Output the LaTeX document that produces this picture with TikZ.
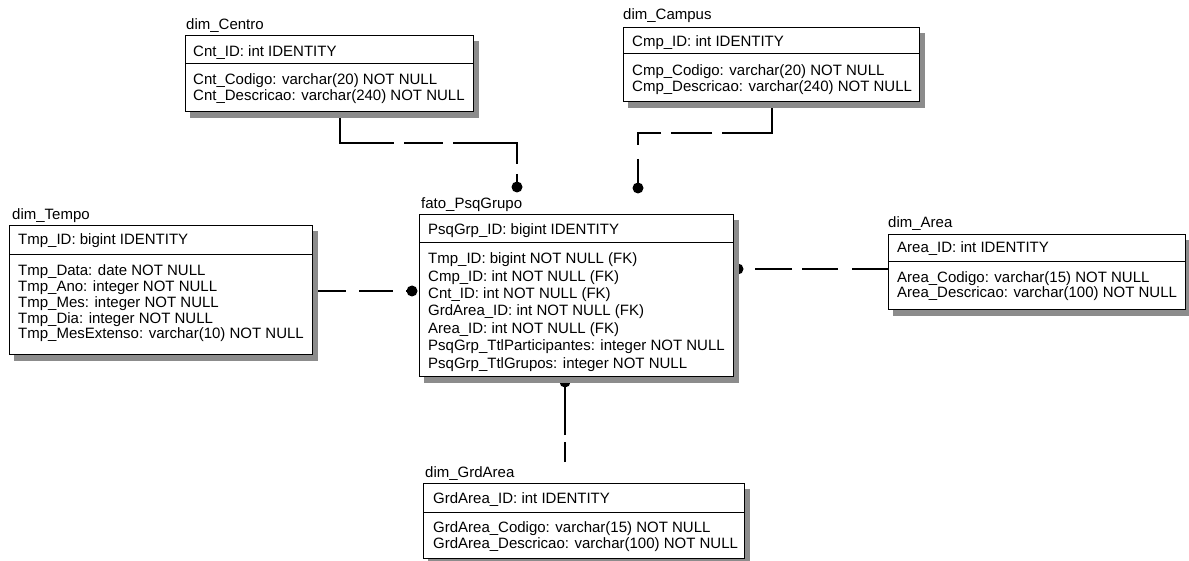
\documentclass[tikz,border=0pt]{standalone}
\usepackage{fontspec}
\setmainfont{Liberation Sans}
\definecolor{tblshade}{gray}{0.55}
\pgfdeclarelayer{links}
\pgfdeclarelayer{shade}
\pgfsetlayers{links,shade,main}
\begin{document}
\begin{tikzpicture}[x=1pt,y=-1pt,
  tbl/.style={draw=black, line width=1pt, fill=white, inner sep=0pt, anchor=north west},
  fld/.style={anchor=base west, inner sep=0pt, font=\fontsize{15}{17}\selectfont},
  divider/.style={draw=black, line width=1pt},
  rel/.style={draw=black, line width=1.2pt},
  fkdot/.style={circle, fill=black, inner sep=0pt, minimum size=11pt}]
\useasboundingbox (0,0) rectangle (1189,561);

% ---------- dim_Centro ----------
\node[fld] (tCentro) at (186,30) {dim\_Centro};
\node[tbl, minimum width=288pt, minimum height=76pt] (centro) at (185,35) {};
\draw[divider] (centro.west |- 0,64) -- (centro.east |- 0,64);
\node[fld] (centro1) at (193,56.5) {Cnt\_ID: int IDENTITY};
\node[fld] (centro2) at (193,85) {Cnt\_Codigo: varchar(20) NOT NULL};
\node[fld] (centro3) at (193,101) {Cnt\_Descricao: varchar(240) NOT NULL};

% ---------- dim_Campus ----------
\node[fld] (tCampus) at (623,20) {dim\_Campus};
\node[tbl, minimum width=296pt, minimum height=74pt] (campus) at (623,27) {};
\draw[divider] (campus.west |- 0,54) -- (campus.east |- 0,54);
\node[fld] (campus1) at (632,47) {Cmp\_ID: int IDENTITY};
\node[fld] (campus2) at (632,76) {Cmp\_Codigo: varchar(20) NOT NULL};
\node[fld] (campus3) at (632,92) {Cmp\_Descricao: varchar(240) NOT NULL};

% ---------- dim_Tempo ----------
\node[fld] (tTempo) at (12,220) {dim\_Tempo};
\node[tbl, minimum width=303pt, minimum height=129pt] (tempo) at (9,225) {};
\draw[divider] (tempo.west |- 0,255) -- (tempo.east |- 0,255);
\node[fld] (tempo1) at (18,245) {Tmp\_ID: bigint IDENTITY};
\node[fld] (tempo2) at (18,276) {Tmp\_Data: date NOT NULL};
\node[fld] (tempo3) at (18,291.75) {Tmp\_Ano: integer NOT NULL};
\node[fld] (tempo4) at (18,307.5) {Tmp\_Mes: integer NOT NULL};
\node[fld] (tempo5) at (18,323.25) {Tmp\_Dia: integer NOT NULL};
\node[fld] (tempo6) at (18,339) {Tmp\_MesExtenso: varchar(10) NOT NULL};

% ---------- fato_PsqGrupo ----------
\node[fld] (tFato) at (421,209) {fato\_PsqGrupo};
\node[tbl, minimum width=314pt, minimum height=162pt] (fato) at (419,214) {};
\draw[divider] (fato.west |- 0,243) -- (fato.east |- 0,243);
\node[fld] (fato1) at (428,235) {PsqGrp\_ID: bigint IDENTITY};
\node[fld] (fato2) at (428,264) {Tmp\_ID: bigint NOT NULL (FK)};
\node[fld] (fato3) at (428,281.3) {Cmp\_ID: int NOT NULL (FK)};
\node[fld] (fato4) at (428,298.7) {Cnt\_ID: int NOT NULL (FK)};
\node[fld] (fato5) at (428,316) {GrdArea\_ID: int NOT NULL (FK)};
\node[fld] (fato6) at (428,333.3) {Area\_ID: int NOT NULL (FK)};
\node[fld] (fato7) at (428,350.7) {PsqGrp\_TtlParticipantes: integer NOT NULL};
\node[fld] (fato8) at (428,368) {PsqGrp\_TtlGrupos: integer NOT NULL};

% ---------- dim_Area ----------
\node[fld] (tArea) at (888,228) {dim\_Area};
\node[tbl, minimum width=297pt, minimum height=75pt] (area) at (888,234) {};
\draw[divider] (area.west |- 0,262) -- (area.east |- 0,262);
\node[fld] (area1) at (897,253) {Area\_ID: int IDENTITY};
\node[fld] (area2) at (897,283) {Area\_Codigo: varchar(15) NOT NULL};
\node[fld] (area3) at (897,298) {Area\_Descricao: varchar(100) NOT NULL};

% ---------- dim_GrdArea ----------
\node[fld] (tGrd) at (425,477) {dim\_GrdArea};
\node[tbl, minimum width=321pt, minimum height=75pt] (grd) at (423,483) {};
\draw[divider] (grd.west |- 0,512) -- (grd.east |- 0,512);
\node[fld] (grd1) at (433,503) {GrdArea\_ID: int IDENTITY};
\node[fld] (grd2) at (433,532) {GrdArea\_Codigo: varchar(15) NOT NULL};
\node[fld] (grd3) at (433,548) {GrdArea\_Descricao: varchar(100) NOT NULL};

% ---------- drop shadows, 5pt right and 6pt down ----------
\begin{pgfonlayer}{shade}
\fill[tblshade] ([shift={(5pt,-6pt)}]centro.north west) rectangle ([shift={(5pt,-6pt)}]centro.south east);
\fill[tblshade] ([shift={(5pt,-6pt)}]campus.north west) rectangle ([shift={(5pt,-6pt)}]campus.south east);
\fill[tblshade] ([shift={(5pt,-6pt)}]tempo.north west) rectangle ([shift={(5pt,-6pt)}]tempo.south east);
\fill[tblshade] ([shift={(5pt,-6pt)}]fato.north west) rectangle ([shift={(5pt,-6pt)}]fato.south east);
\fill[tblshade] ([shift={(5pt,-6pt)}]area.north west) rectangle ([shift={(5pt,-6pt)}]area.south east);
\fill[tblshade] ([shift={(5pt,-6pt)}]grd.north west) rectangle ([shift={(5pt,-6pt)}]grd.south east);
\end{pgfonlayer}

% ---------- relationships (behind the tables and shadows) ----------
\begin{pgfonlayer}{links}
  \node[fkdot] (dC) at (517,187) {};
  \node[fkdot] (dP) at (638,188) {};
  \node[fkdot] (dT) at (412,291) {};
  \node[fkdot] (dA) at (738,269) {};
  \node[fkdot] (dG) at (565,382) {};
  \coordinate (gEnd) at (565,462);

  \draw[rel, dash pattern=on 85pt off 10pt on 39pt off 10pt on 85pt off 10pt on 40pt off 100pt]
    (centro.south -| 340,0) |- (517,143) -- (dC.center);
  \draw[rel, dash pattern=on 81pt off 10pt on 41pt off 10pt on 35pt off 14pt on 40pt off 100pt]
    (campus.south -| 772,0) |- (638,133) -- (dP.center);
  \draw[rel, dash pattern=on 33pt off 13pt on 34pt off 13pt on 20pt off 100pt]
    (tempo.east |- 0,291) -- (dT.center);
  \draw[rel, dash pattern=on 36pt off 14pt on 36pt off 10pt on 37pt off 13pt on 20pt off 100pt]
    (area.west |- 0,269) -- (dA.center);
  \draw[rel, dash pattern=on 20pt off 7pt on 80pt off 100pt]
    (gEnd) -- (dG.center);
\end{pgfonlayer}
\end{tikzpicture}
\end{document}
